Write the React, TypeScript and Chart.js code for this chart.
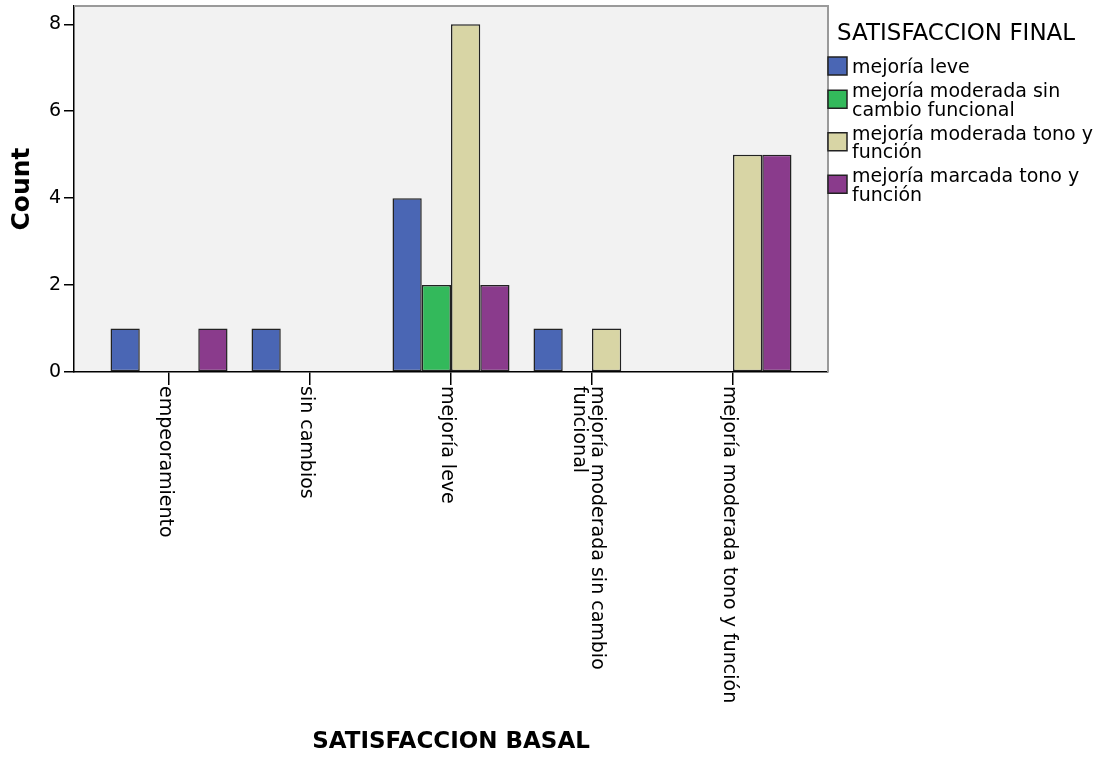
import { useEffect, useRef } from 'react'
import { Chart, registerables } from 'chart.js'

Chart.register(...registerables)

// categorias del eje X (SATISFACCION BASAL), '\n' = salto de linea en la etiqueta
const categories = [
  'empeoramiento',
  'sin cambios',
  'mejoría leve',
  'mejoría moderada sin cambio\nfuncional',
  'mejoría moderada tono y función',
]

// series (SATISFACCION FINAL)
const seriesNames = [
  'mejoría leve',
  'mejoría moderada sin\ncambio funcional',
  'mejoría moderada tono y\nfunción',
  'mejoría marcada tono y\nfunción',
]
const seriesColors = ['#4a66b4', '#33b95b', '#d8d5a5', '#8a3b8c']

const mejoriaLeve = [1, 1, 4, 1, 0]
const moderadaSinCambio = [0, 0, 2, 0, 0]
const moderadaTono = [0, 0, 8, 1, 5]
const marcadaTono = [1, 0, 2, 0, 5]
const seriesValues = [mejoriaLeve, moderadaSinCambio, moderadaTono, marcadaTono]

const yTicks = [0, 2, 4, 6, 8]

const FONT = '"DejaVu Sans", "Noto Sans", sans-serif'

const textPlugin = {
  id: 'spssText',
  beforeDraw(chart: any) {
    const { ctx, chartArea } = chart
    ctx.save()
    ctx.fillStyle = '#ffffff'
    ctx.fillRect(0, 0, chart.width, chart.height)
    ctx.fillStyle = '#f2f2f2'
    ctx.fillRect(chartArea.left, chartArea.top, chartArea.right - chartArea.left, chartArea.bottom - chartArea.top)
    ctx.restore()
  },
  afterDatasetsDraw(chart: any) {
    const { ctx, chartArea } = chart
    ctx.save()
    ctx.strokeStyle = '#9a9a9a'
    ctx.lineWidth = 2
    ctx.beginPath()
    ctx.moveTo(chartArea.left, chartArea.top)
    ctx.lineTo(chartArea.right, chartArea.top)
    ctx.lineTo(chartArea.right, chartArea.bottom)
    ctx.stroke()
    ctx.restore()
  },
  afterDraw(chart: any) {
    const { ctx, chartArea } = chart
    const xScale = chart.scales.x
    ctx.save()
    ctx.fillStyle = '#000000'

    // titulo eje Y
    ctx.save()
    ctx.translate(22, (chartArea.top + chartArea.bottom) / 2)
    ctx.rotate(-Math.PI / 2)
    ctx.font = `bold 25px ${FONT}`
    ctx.textAlign = 'center'
    ctx.textBaseline = 'middle'
    ctx.fillText('Count', 0, 0)
    ctx.restore()

    // etiquetas eje X, giradas 90 grados
    ctx.font = `19px ${FONT}`
    ctx.textAlign = 'left'
    ctx.textBaseline = 'middle'
    categories.forEach((label, i) => {
      const lines = label.split('\n')
      const px = xScale.getPixelForValue(i) - 4
      const lh = 18
      ctx.save()
      ctx.translate(px, chartArea.bottom + 14)
      ctx.rotate(Math.PI / 2)
      lines.forEach((line, j) => {
        ctx.fillText(line, 0, (j - (lines.length - 1) / 2) * lh)
      })
      ctx.restore()
    })

    // titulo eje X
    ctx.font = `bold 23px ${FONT}`
    ctx.textAlign = 'center'
    ctx.textBaseline = 'alphabetic'
    ctx.fillText('SATISFACCION BASAL', (chartArea.left + chartArea.right) / 2, 748)

    // leyenda
    ctx.textAlign = 'left'
    ctx.font = `23px ${FONT}`
    ctx.fillText('SATISFACCION FINAL', 837, 40)
    ctx.font = `19px ${FONT}`
    let base = 73
    seriesNames.forEach((name, i) => {
      const lines = name.split('\n')
      const last = base + (lines.length - 1) * 18.5
      const cy = (base + last) / 2 - 7
      ctx.fillStyle = seriesColors[i]
      ctx.fillRect(828, cy - 9, 19, 18)
      ctx.strokeStyle = '#222222'
      ctx.lineWidth = 1.5
      ctx.strokeRect(828, cy - 9, 19, 18)
      ctx.fillStyle = '#000000'
      lines.forEach((line, j) => {
        ctx.fillText(line, 852, base + j * 18.5)
      })
      base = last + 24
    })
    ctx.restore()
  },
}

export default function App() {
  const chartRef = useRef<HTMLCanvasElement>(null)
  const chartInstance = useRef<Chart | null>(null)

  useEffect(() => {
    document.body.style.margin = '0'
    if (!chartRef.current) return
    const ctx = chartRef.current.getContext('2d')
    if (!ctx) return

    const datasets = seriesNames.map((name, i) => ({
      label: name.replace('\n', ' '),
      data: seriesValues[i].map((v, j) => ({ x: j, y: v > 0 ? v : null })),
      backgroundColor: seriesColors[i],
      borderColor: '#222222',
      borderWidth: 1.5,
      borderSkipped: false as const,
      categoryPercentage: 0.83,
      barPercentage: 1,
    }))

    if (chartInstance.current) chartInstance.current.destroy()

    chartInstance.current = new Chart(ctx, {
      type: 'bar',
      data: { datasets },
      options: {
        animation: false,
        responsive: false,
        devicePixelRatio: 1,
        layout: { padding: { left: 0, top: 6, right: 273, bottom: 0 } },
        plugins: { legend: { display: false }, tooltip: { enabled: false } },
        scales: {
          x: {
            type: 'linear',
            offset: false,
            min: -0.674,
            max: 4.674,
            afterBuildTicks: (s: any) => {
              s.ticks = categories.map((_, i) => ({ value: i }))
            },
            afterFit: (s: any) => {
              s.height = 386
              s.paddingLeft = 0
              s.paddingRight = 0
            },
            ticks: { display: false },
            grid: {
              offset: false,
              drawOnChartArea: false,
              drawTicks: true,
              tickLength: 13,
              color: '#000',
              lineWidth: 1.5,
            },
            border: { display: true, color: '#000', width: 1.5 },
          },
          y: {
            min: 0,
            max: 8.42,
            afterBuildTicks: (s: any) => {
              s.ticks = yTicks.map(v => ({ value: v }))
            },
            afterFit: (s: any) => {
              s.width = 74
              s.paddingTop = 0
              s.paddingBottom = 0
            },
            ticks: { color: '#000', font: { family: FONT, size: 19 }, padding: 3 },
            grid: { drawOnChartArea: false, drawTicks: true, tickLength: 10, color: '#000', lineWidth: 1.5 },
            border: { display: true, color: '#000', width: 1.5 },
          },
        },
      },
      plugins: [textPlugin],
    })

    return () => {
      if (chartInstance.current) {
        chartInstance.current.destroy()
        chartInstance.current = null
      }
    }
  }, [])

  return (
    <div style={{ width: 1101, height: 758 }}>
      <canvas ref={chartRef} width={1101} height={758} style={{ display: 'block' }}></canvas>
    </div>
  )
}
